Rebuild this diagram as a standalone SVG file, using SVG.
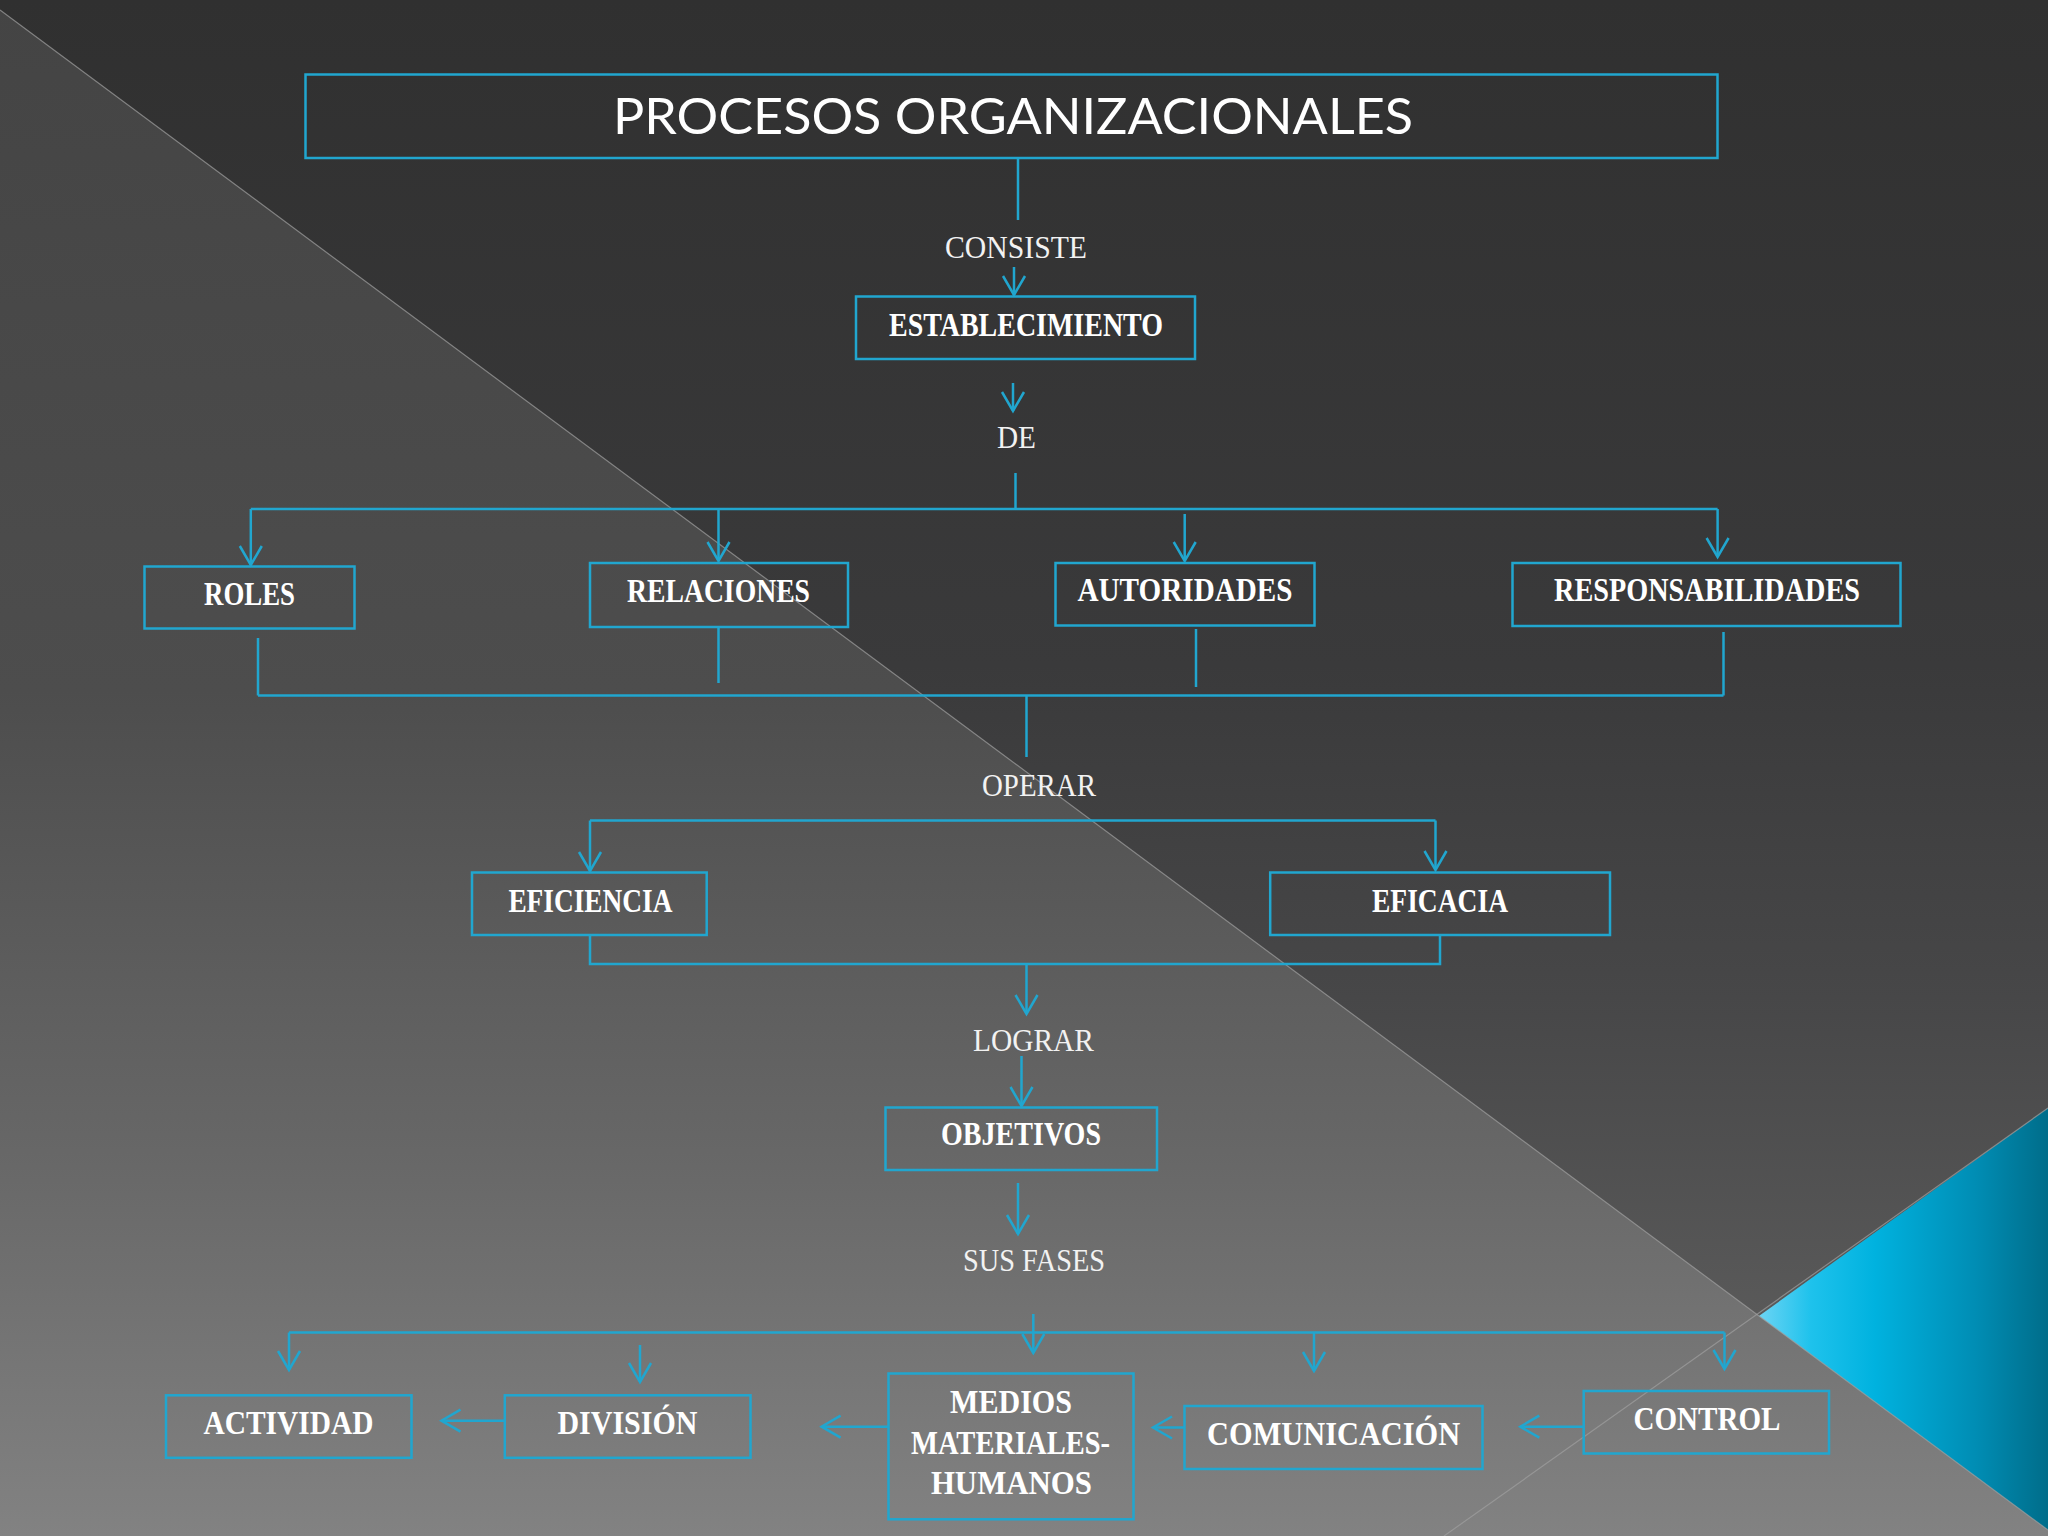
<svg xmlns="http://www.w3.org/2000/svg" width="2048" height="1536" viewBox="0 0 2048 1536">
<defs>
<linearGradient id="gLow" x1="0" y1="0" x2="0" y2="1536" gradientUnits="userSpaceOnUse">
<stop offset="0" stop-color="#444444"/>
<stop offset="0.45" stop-color="#4d4d4d"/>
<stop offset="0.75" stop-color="#676767"/>
<stop offset="1" stop-color="#828282"/>
</linearGradient>
<linearGradient id="gUp" x1="0" y1="0" x2="0" y2="1330" gradientUnits="userSpaceOnUse">
<stop offset="0" stop-color="#303030"/>
<stop offset="0.5" stop-color="#3a3a3b"/>
<stop offset="0.75" stop-color="#474748"/>
<stop offset="1" stop-color="#5a5a5a"/>
</linearGradient>
<linearGradient id="gCyan" x1="1759" y1="0" x2="2048" y2="0" gradientUnits="userSpaceOnUse">
<stop offset="0" stop-color="#6cd4f4"/>
<stop offset="0.18" stop-color="#1ec2ec"/>
<stop offset="0.4" stop-color="#00b2df"/>
<stop offset="0.75" stop-color="#008db4"/>
<stop offset="1" stop-color="#006d8a"/>
</linearGradient>
<marker id="arr" markerUnits="userSpaceOnUse" viewBox="-22 -14 26 28" refX="0" refY="0" markerWidth="26" markerHeight="28" orient="auto" overflow="visible">
<path d="M-19,-11 L0,0 L-19,11" fill="none" stroke="#21a6cf" stroke-width="2.5" stroke-linejoin="miter"/>
</marker>
<style>
.box{fill:none;stroke:#21a6cf;stroke-width:2.5}
.ln{fill:none;stroke:#21a6cf;stroke-width:2.5}
.ar{fill:none;stroke:#21a6cf;stroke-width:2.5;marker-end:url(#arr)}
.lbl{font-family:"Liberation Serif","DejaVu Serif",serif;font-weight:bold;font-size:33px;fill:#ffffff;text-anchor:middle}
.cap{font-family:"Liberation Serif","DejaVu Serif",serif;font-size:32px;fill:#f2f2f2;text-anchor:middle}
.title{font-family:Lato,"Liberation Sans",sans-serif;font-weight:400;font-size:50px;fill:#ffffff;text-anchor:middle}
.thin{fill:none;stroke:#a0a0a0;stroke-width:1.2;stroke-opacity:0.7}
</style>
</defs>
<g id="background">
<rect x="0" y="0" width="2048" height="1536" fill="url(#gLow)"/>
<polygon points="0,0 2048,0 2048,1108 1759,1316 0,10" fill="url(#gUp)"/>
<polygon points="2048,1108 1759,1316 2048,1530" fill="url(#gCyan)"/>
<polyline class="thin" points="0,10 1759,1316 2048,1530"/>
<line class="thin" x1="2048" y1="1108" x2="1444" y2="1536"/>
</g>
<g id="connectors">
<line class="ln" x1="1018" y1="158" x2="1018" y2="220"/>
<line class="ar" x1="1014" y1="267" x2="1014" y2="295"/>
<line class="ar" x1="1013" y1="383" x2="1013" y2="411"/>
<line class="ln" x1="1015.5" y1="473" x2="1015.5" y2="509"/>
<line class="ln" x1="250.8" y1="509" x2="1717.6" y2="509"/>
<line class="ar" x1="250.8" y1="509" x2="250.8" y2="565"/>
<line class="ar" x1="718.5" y1="509" x2="718.5" y2="561"/>
<line class="ar" x1="1184.7" y1="514" x2="1184.7" y2="561"/>
<line class="ar" x1="1717.6" y1="509" x2="1717.6" y2="557"/>
<line class="ln" x1="258" y1="638" x2="258" y2="695.5"/>
<line class="ln" x1="718.5" y1="627" x2="718.5" y2="683"/>
<line class="ln" x1="1196" y1="629" x2="1196" y2="687"/>
<line class="ln" x1="1723.5" y1="632" x2="1723.5" y2="695.5"/>
<line class="ln" x1="258" y1="695.5" x2="1723.5" y2="695.5"/>
<line class="ln" x1="1026.5" y1="695.5" x2="1026.5" y2="757"/>
<line class="ln" x1="590" y1="820.5" x2="1435.5" y2="820.5"/>
<line class="ar" x1="590" y1="820.5" x2="590" y2="871"/>
<line class="ar" x1="1435.5" y1="820.5" x2="1435.5" y2="870"/>
<polyline class="ln" points="590,935 590,964 1440,964 1440,935"/>
<line class="ar" x1="1026.5" y1="964" x2="1026.5" y2="1014"/>
<line class="ar" x1="1021.5" y1="1056" x2="1021.5" y2="1106"/>
<line class="ar" x1="1018" y1="1183" x2="1018" y2="1234"/>
<line class="ln" x1="289" y1="1332.5" x2="1724.5" y2="1332.5"/>
<line class="ar" x1="289" y1="1332.5" x2="289" y2="1370"/>
<line class="ar" x1="640" y1="1345" x2="640" y2="1382"/>
<line class="ar" x1="1033.3" y1="1314" x2="1033.3" y2="1353"/>
<line class="ar" x1="1314" y1="1332.5" x2="1314" y2="1371"/>
<line class="ar" x1="1724.5" y1="1332.5" x2="1724.5" y2="1369"/>
<line class="ar" x1="504.8" y1="1420.7" x2="441.5" y2="1420.7"/>
<line class="ar" x1="888.5" y1="1426.7" x2="821.6" y2="1426.7"/>
<line class="ar" x1="1184.5" y1="1427.5" x2="1153" y2="1427.5"/>
<line class="ar" x1="1583.7" y1="1426.7" x2="1520.3" y2="1426.7"/>
</g>
<g id="labels">
<text class="cap" x="1016" y="258" textLength="142" lengthAdjust="spacingAndGlyphs">CONSISTE</text>
<text class="cap" x="1016.4" y="448" textLength="39" lengthAdjust="spacingAndGlyphs">DE</text>
<text class="cap" x="1039" y="796" textLength="114" lengthAdjust="spacingAndGlyphs">OPERAR</text>
<text class="cap" x="1033.5" y="1051" textLength="121" lengthAdjust="spacingAndGlyphs">LOGRAR</text>
<text class="cap" x="1034" y="1271" textLength="142" lengthAdjust="spacingAndGlyphs">SUS FASES</text>
</g>
<g id="n-title">
<rect class="box" x="305.5" y="74.5" width="1412" height="83.5"/>
<text class="title" x="1013" y="134.3" textLength="800" lengthAdjust="spacingAndGlyphs">PROCESOS ORGANIZACIONALES</text>
</g>
<g id="n-establecimiento">
<rect class="box" x="856" y="296.5" width="339" height="62.5"/>
<text class="lbl" x="1026" y="336" textLength="274" lengthAdjust="spacingAndGlyphs">ESTABLECIMIENTO</text>
</g>
<g id="n-roles">
<rect class="box" x="144.5" y="566.5" width="210" height="62"/>
<text class="lbl" x="249.5" y="605" textLength="91" lengthAdjust="spacingAndGlyphs">ROLES</text>
</g>
<g id="n-relaciones">
<rect class="box" x="590" y="563" width="258" height="64"/>
<text class="lbl" x="718.5" y="602" textLength="183" lengthAdjust="spacingAndGlyphs">RELACIONES</text>
</g>
<g id="n-autoridades">
<rect class="box" x="1055.5" y="563" width="259" height="62.5"/>
<text class="lbl" x="1185" y="601" textLength="215" lengthAdjust="spacingAndGlyphs">AUTORIDADES</text>
</g>
<g id="n-responsabilidades">
<rect class="box" x="1512.5" y="563" width="388" height="63"/>
<text class="lbl" x="1707" y="601" textLength="306" lengthAdjust="spacingAndGlyphs">RESPONSABILIDADES</text>
</g>
<g id="n-eficiencia">
<rect class="box" x="472" y="872.5" width="234.7" height="62.5"/>
<text class="lbl" x="590.4" y="911.5" textLength="164" lengthAdjust="spacingAndGlyphs">EFICIENCIA</text>
</g>
<g id="n-eficacia">
<rect class="box" x="1270.2" y="872.5" width="339.8" height="62.5"/>
<text class="lbl" x="1440" y="911.5" textLength="136" lengthAdjust="spacingAndGlyphs">EFICACIA</text>
</g>
<g id="n-objetivos">
<rect class="box" x="885.5" y="1107.5" width="271.5" height="62.5"/>
<text class="lbl" x="1021" y="1145" textLength="160" lengthAdjust="spacingAndGlyphs">OBJETIVOS</text>
</g>
<g id="n-actividad">
<rect class="box" x="166" y="1395.3" width="245.5" height="62.5"/>
<text class="lbl" x="288.4" y="1434" textLength="170" lengthAdjust="spacingAndGlyphs">ACTIVIDAD</text>
</g>
<g id="n-division">
<rect class="box" x="504.8" y="1395.3" width="245.7" height="62.5"/>
<text class="lbl" x="627.4" y="1434" textLength="140" lengthAdjust="spacingAndGlyphs">DIVISIÓN</text>
</g>
<g id="n-medios">
<rect class="box" x="888.5" y="1373.5" width="245" height="145.8"/>
<text class="lbl" x="1011" y="1412.5" textLength="122" lengthAdjust="spacingAndGlyphs">MEDIOS</text>
<text class="lbl" x="1010.5" y="1453.5" textLength="199" lengthAdjust="spacingAndGlyphs">MATERIALES-</text>
<text class="lbl" x="1011.4" y="1494" textLength="161" lengthAdjust="spacingAndGlyphs">HUMANOS</text>
</g>
<g id="n-comunicacion">
<rect class="box" x="1184.5" y="1406" width="298" height="63"/>
<text class="lbl" x="1333.6" y="1445.3" textLength="253" lengthAdjust="spacingAndGlyphs">COMUNICACIÓN</text>
</g>
<g id="n-control">
<rect class="box" x="1583.7" y="1391" width="245.3" height="62.5"/>
<text class="lbl" x="1707" y="1430" textLength="147" lengthAdjust="spacingAndGlyphs">CONTROL</text>
</g>
</svg>
